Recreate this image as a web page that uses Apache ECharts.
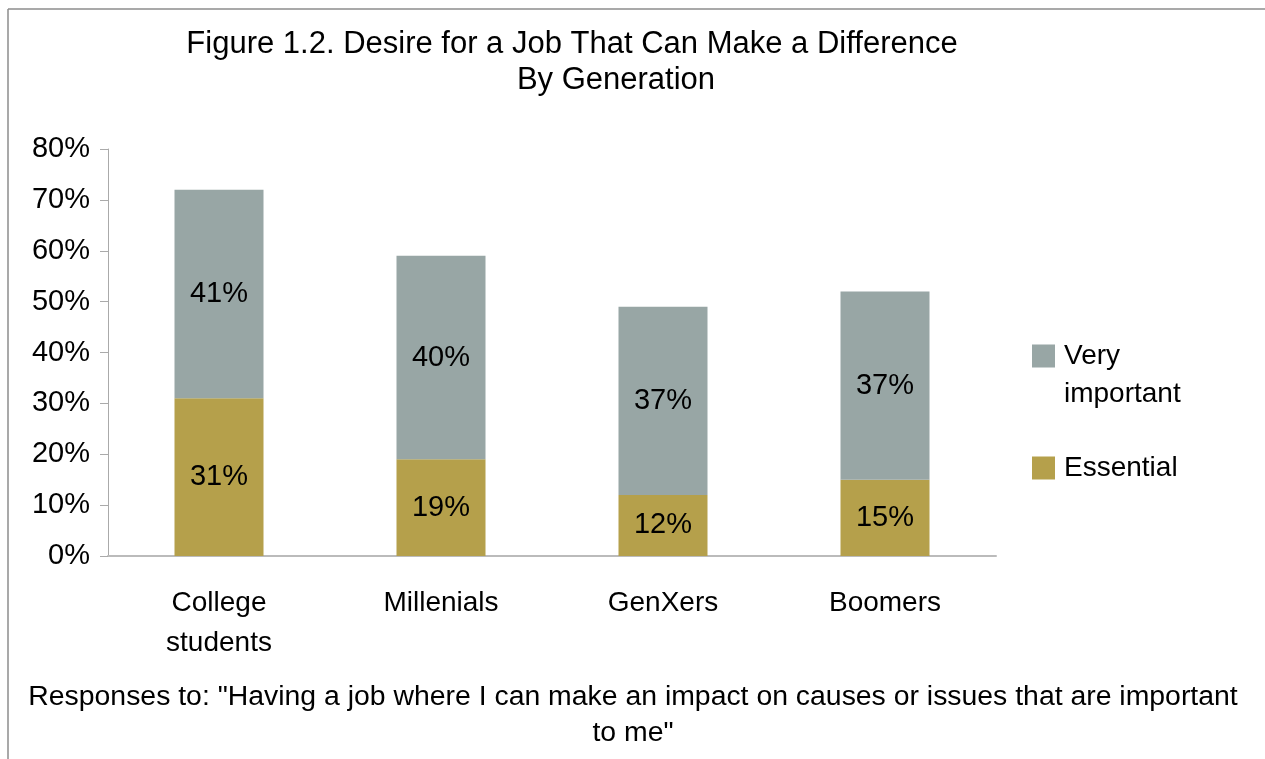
<!DOCTYPE html>
<html>
<head>
<meta charset="utf-8">
<script src="https://cdn.jsdelivr.net/npm/echarts@6/dist/echarts.min.js"></script>
<style>
html,body{margin:0;padding:0;background:#fff;}
#chart{width:1265px;height:759px;}
</style>
</head>
<body>
<div id="chart"></div>
<script>
const categories = ['College\nstudents', 'Millenials', 'GenXers', 'Boomers'];
const essential = [31, 19, 12, 15];
const veryImportant = [41, 40, 37, 37];
const yTicks = ['0%', '10%', '20%', '30%', '40%', '50%', '60%', '70%', '80%'];
const titleLines = ['Figure 1.2. Desire for a Job That Can Make a Difference', 'By Generation'];
const noteLines = ['Responses to: "Having a job where I can make an impact on causes or issues that are important', 'to me"'];

const FONT = '"Liberation Sans", Arial, sans-serif';
const chart = echarts.init(document.getElementById('chart'));
chart.setOption({
  backgroundColor: '#fff',
  animation: false,
  textStyle: { fontFamily: FONT },
  grid: { left: 108, right: 269, top: 149, bottom: 203, containLabel: false },
  xAxis: {
    type: 'category',
    data: categories,
    axisLine: { show: true, lineStyle: { color: '#bbbbbb', width: 2 } },
    axisTick: { show: false },
    axisLabel: { color: '#000', fontSize: 28, fontFamily: FONT, lineHeight: 40, margin: 27, interval: 0 }
  },
  yAxis: {
    type: 'value',
    min: 0, max: 80, interval: 10,
    splitLine: { show: false },
    axisLine: { show: true, lineStyle: { color: '#aaaaaa', width: 1 } },
    axisTick: { show: true, length: 8, lineStyle: { color: '#aaaaaa' } },
    axisLabel: { color: '#000', fontSize: 29, fontFamily: FONT, margin: 18,
      formatter: (v) => yTicks[Math.round(v / 10)] }
  },
  legend: [
    {
      orient: 'vertical',
      left: 1032,
      top: 337,
      padding: 0,
      itemWidth: 23,
      itemHeight: 61,
      selectedMode: false,
      icon: 'path://M0,0L23,0L23,23L0,23Z M0,61L0,61',
      textStyle: { color: '#000', fontSize: 28, fontFamily: FONT, lineHeight: 38, padding: [0, 0, 0, 4] },
      formatter: () => 'Very\nimportant',
      data: ['Very important']
    },
    {
      orient: 'vertical',
      left: 1032,
      top: 450,
      padding: 0,
      itemWidth: 23,
      itemHeight: 23,
      selectedMode: false,
      icon: 'rect',
      textStyle: { color: '#000', fontSize: 28, fontFamily: FONT, lineHeight: 36, padding: [0, 0, 0, 4] },
      data: ['Essential']
    }
  ],
  series: [
    {
      name: 'Essential', type: 'bar', stack: 'a', data: essential, barWidth: 89,
      itemStyle: { color: '#b5a04b' },
      label: { show: true, position: 'inside', color: '#000', fontSize: 29, fontFamily: FONT, formatter: '{c}%' }
    },
    {
      name: 'Very important', type: 'bar', stack: 'a', data: veryImportant, barWidth: 89,
      itemStyle: { color: '#98a6a5' },
      label: { show: true, position: 'inside', color: '#000', fontSize: 29, fontFamily: FONT, formatter: '{c}%' }
    }
  ],
  graphic: [
    { type: 'line', shape: { x1: 8, y1: 9, x2: 1265, y2: 9 }, style: { stroke: '#8c8c8c', lineWidth: 1.5 } },
    { type: 'line', shape: { x1: 8, y1: 9, x2: 8, y2: 759 }, style: { stroke: '#8c8c8c', lineWidth: 1.5 } },
    { type: 'text', x: 572, y: 44, style: { text: titleLines[0], font: '31px ' + FONT, fill: '#000', align: 'center', verticalAlign: 'middle' } },
    { type: 'text', x: 616, y: 80, style: { text: titleLines[1], font: '31px ' + FONT, fill: '#000', align: 'center', verticalAlign: 'middle' } },
    { type: 'text', x: 633, y: 697, style: { text: noteLines[0], font: '28.4px ' + FONT, fill: '#000', align: 'center', verticalAlign: 'middle' } },
    { type: 'text', x: 633, y: 733, style: { text: noteLines[1], font: '28.4px ' + FONT, fill: '#000', align: 'center', verticalAlign: 'middle' } }
  ]
});
</script>
</body>
</html>
